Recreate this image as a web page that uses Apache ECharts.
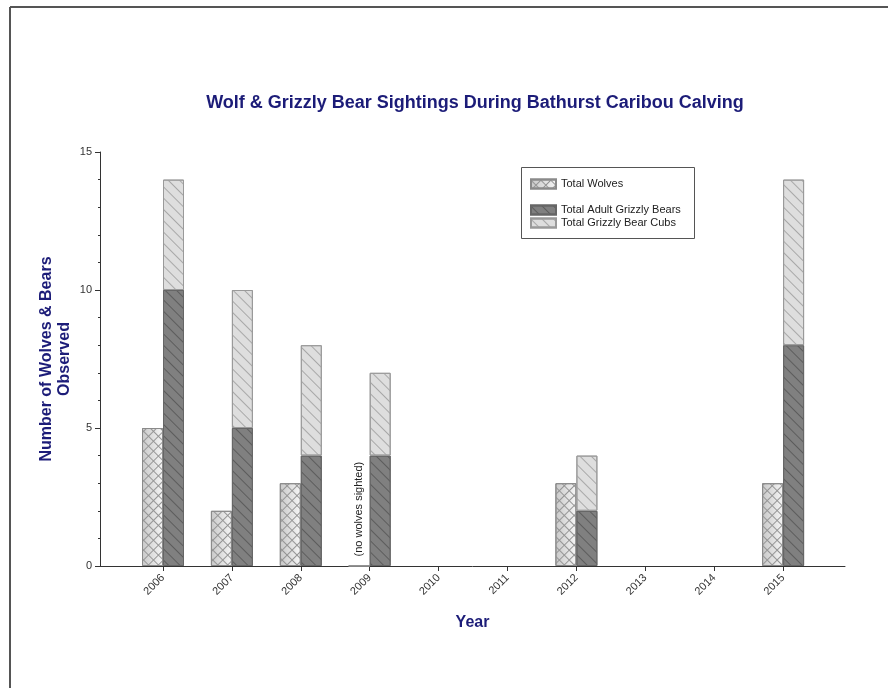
<!DOCTYPE html>
<html><head><meta charset="utf-8">
<script src="https://cdn.jsdelivr.net/npm/echarts@6/dist/echarts.min.js"></script>
<style>html,body{margin:0;padding:0;background:#fff}#c{width:888px;height:688px}</style>
</head><body><div id="c"></div>
<script>
const years = ['2006', '2007', '2008', '2009', '2010', '2011', '2012', '2013', '2014', '2015'];
const wolves = [5, 2, 3, 0, null, null, 3, null, null, 3];
const adultBears = [10, 5, 4, 4, null, null, 2, null, null, 8];
const bearCubs = [4, 5, 4, 3, null, null, 2, null, null, 6];
const noWolvesNote = '(no wolves sighted)';

const navy = '#1c1c78';
const font = '"Liberation Sans", Arial, sans-serif';

const diagDecal = (c) => ({
  symbol: 'rect', symbolSize: 1, symbolKeepAspect: false,
  color: c, dashArrayX: [1, 0], dashArrayY: [1, 7], rotation: Math.PI / 4
});
const crossDecal = {
  symbol: 'rect', symbolSize: 1, symbolKeepAspect: false,
  color: '#959595', dashArrayX: [[7, 0], [1, 6]], dashArrayY: [1, 0, 6, 0], rotation: Math.PI / 4
};

const chart = echarts.init(document.getElementById('c'), null, { renderer: 'canvas' });
chart.setOption({
  animation: false,
  backgroundColor: '#fff',
  textStyle: { fontFamily: font },
  title: {
    text: 'Wolf & Grizzly Bear Sightings During Bathurst Caribou Calving',
    left: 475, top: 94, textAlign: 'center', padding: 0,
    textStyle: { fontSize: 18, fontWeight: 'bold', color: navy, fontFamily: font }
  },
  graphic: [
    { type: 'line', shape: { x1: 10, y1: 7, x2: 888, y2: 7 }, style: { stroke: '#555', lineWidth: 2 }, silent: true },
    { type: 'line', shape: { x1: 10, y1: 7, x2: 10, y2: 688 }, style: { stroke: '#555', lineWidth: 2 }, silent: true },
    { type: 'rect', shape: { x: 521.5, y: 167.5, width: 173, height: 71 }, style: { fill: 'none', stroke: '#555', lineWidth: 1 }, silent: true, z: 10 }
  ],
  legend: [
    {
      data: ['Total Wolves'], left: 530, top: 178, orient: 'vertical', padding: 0,
      itemWidth: 25, itemHeight: 9, icon: 'rect',
      textStyle: { fontSize: 11, color: '#222', lineHeight: 12, fontFamily: font }
    },
    {
      data: ['Total Adult Grizzly Bears', 'Total Grizzly Bear Cubs'], left: 530, top: 204, orient: 'vertical', padding: 0,
      itemWidth: 25, itemHeight: 9, itemGap: 1, icon: 'rect',
      textStyle: { fontSize: 11, color: '#222', lineHeight: 12, fontFamily: font }
    }
  ],
  grid: [
    { left: 100, right: 43, top: 152, bottom: 122 },
    { left: 128.55, width: 689, top: 152, bottom: 122 }
  ],
  xAxis: [
    {
      gridIndex: 0, type: 'value', min: 0, max: 1,
      name: 'Year', nameLocation: 'middle', nameGap: 49,
      nameTextStyle: { fontSize: 16, fontWeight: 'bold', color: navy, fontFamily: font },
      axisLine: { show: true, onZero: false, lineStyle: { color: '#333', width: 1 } },
      axisTick: { show: false }, axisLabel: { show: false }, splitLine: { show: false }
    },
    {
      gridIndex: 1, type: 'category', data: years,
      axisLine: { show: false },
      axisTick: { show: true, alignWithLabel: true, length: 5, lineStyle: { color: '#333' } },
      axisLabel: { rotate: 45, fontSize: 11, color: '#333', margin: 10, interval: 0, fontFamily: font },
      splitLine: { show: false }
    }
  ],
  yAxis: [
    {
      gridIndex: 0, type: 'value', min: 0, max: 15, interval: 5,
      name: 'Number of Wolves & Bears\nObserved', nameLocation: 'middle', nameRotate: 90, nameGap: 26,
      nameMoveOverlap: false,
      nameTextStyle: { fontSize: 16, fontWeight: 'bold', color: navy, lineHeight: 18, align: 'center', fontFamily: font },
      axisLine: { show: true, lineStyle: { color: '#333', width: 1 } },
      axisTick: { show: true, length: 5, lineStyle: { color: '#333' } },
      minorTick: { show: true, splitNumber: 5, length: 2, lineStyle: { color: '#333' } },
      axisLabel: { fontSize: 11, color: '#333', margin: 8, fontFamily: font },
      splitLine: { show: false }
    },
    {
      gridIndex: 1, type: 'value', min: 0, max: 15, interval: 5, show: false,
      splitLine: { show: false }
    }
  ],
  series: [
    {
      name: 'Total Wolves', type: 'bar', stack: 'w', barWidth: 21, barGap: '0%',
      xAxisIndex: 1, yAxisIndex: 1,
      data: wolves,
      itemStyle: {
        color: new echarts.graphic.LinearGradient(0, 0, 1, 0, [{ offset: 0, color: '#c8c8c8' }, { offset: 1, color: '#f6f6f6' }]),
        borderColor: '#8a8a8a', borderWidth: 1, decal: crossDecal
      },
      label: {
        show: true, position: 'top', rotate: 90, align: 'left', verticalAlign: 'middle', distance: 9,
        fontSize: 11, color: '#222', fontFamily: font,
        formatter: p => (p.value === 0 ? noWolvesNote : '')
      }
    },
    {
      name: 'Total Adult Grizzly Bears', type: 'bar', stack: 'b', barWidth: 21, barGap: '0%',
      xAxisIndex: 1, yAxisIndex: 1,
      data: adultBears,
      itemStyle: { color: '#808080', borderColor: '#666', borderWidth: 1, decal: diagDecal('#5c5c5c') }
    },
    {
      name: 'Total Grizzly Bear Cubs', type: 'bar', stack: 'b', barWidth: 21, barGap: '0%',
      xAxisIndex: 1, yAxisIndex: 1,
      data: bearCubs,
      itemStyle: { color: '#dedede', borderColor: '#9a9a9a', borderWidth: 1, decal: diagDecal('#a8a8a8') }
    }
  ]
});
</script></body></html>
